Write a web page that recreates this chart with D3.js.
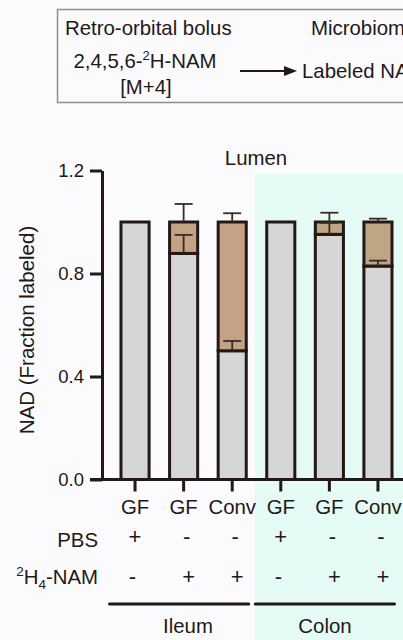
<!DOCTYPE html>
<html>
<head>
<meta charset="utf-8">
<script src="https://cdn.jsdelivr.net/npm/d3@7"></script>
<style>
  html, body { margin: 0; padding: 0; background: #fbfbfe; }
  svg { display: block; font-family: "Liberation Sans", Arial, sans-serif; }
  text { fill: #231815; }
</style>
</head>
<body>
<div class="chart"></div>
<script>
const groups = ['GF', 'GF', 'Conv', 'GF', 'GF', 'Conv'];
const pbs = ['+', '-', '-', '+', '-', '-'];
const nam = ['-', '+', '+', '-', '+', '+'];
const tissues = ['Ileum', 'Colon'];
const tissueOf = [0, 0, 0, 1, 1, 1];
const unlabeled = [1.0, 0.878, 0.50, 1.0, 0.952, 0.829];
const labeled = [0, 0.122, 0.50, 0, 0.048, 0.171];
const unlabeledErr = [0, 0.072, 0.038, 0, 0.045, 0.021];
const totalErr = [0, 0.07, 0.034, 0, 0.036, 0.013];
const yTicks = [0, 0.4, 0.8, 1.2];

const w = 403;
const h = 640;
const ink = '#231815';
const fs = 20.4;

const svg = d3.select('.chart')
  .append('svg')
  .attr('width', w)
  .attr('height', h);

// top scheme box
const box = svg.append('g');
box.append('rect')
  .attr('x', 57.5).attr('y', 9.5)
  .attr('width', 420).attr('height', 93)
  .attr('fill', 'none')
  .attr('stroke', '#8e8e8e')
  .attr('stroke-width', 1.5);
box.append('text').attr('x', 65).attr('y', 35)
  .attr('font-size', fs).text('Retro-orbital bolus');
box.append('text').attr('x', 311).attr('y', 35)
  .attr('font-size', fs).text('Microbiome');
const nm = box.append('text').attr('x', 145).attr('y', 68)
  .attr('font-size', fs).attr('text-anchor', 'middle');
nm.append('tspan').text('2,4,5,6-');
nm.append('tspan').attr('font-size', 13).attr('dy', -8).text('2');
nm.append('tspan').attr('dy', 8).text('H-NAM');
box.append('text').attr('x', 146).attr('y', 94)
  .attr('font-size', fs).attr('text-anchor', 'middle').text('[M+4]');
box.append('line')
  .attr('x1', 240).attr('x2', 287).attr('y1', 71).attr('y2', 71)
  .attr('stroke', ink).attr('stroke-width', 2.2);
box.append('path')
  .attr('d', 'M284,66 L297,71 L284,76 Z')
  .attr('fill', ink);
box.append('text').attr('x', 302).attr('y', 78)
  .attr('font-size', fs).text('Labeled NAD');

// scales
const x = d3.scaleBand()
  .domain(d3.range(groups.length))
  .range([102, 411])
  .padding(0.36);
const y = d3.scaleLinear()
  .domain([0, 1.2])
  .range([479.5, 170.5]);

// colon background
svg.append('rect')
  .attr('x', 255).attr('y', 174)
  .attr('width', w - 255).attr('height', h - 174)
  .attr('fill', '#e5fbf5');

svg.append('text')
  .attr('x', 256).attr('y', 165)
  .attr('text-anchor', 'middle')
  .attr('font-size', fs)
  .text('Lumen');

// bars
const sw = 3;
const bars = svg.append('g');
const bw = x.bandwidth() - sw;
groups.forEach((g, i) => {
  const bx = x(i) + sw / 2;
  bars.append('rect')
    .attr('x', bx).attr('width', bw)
    .attr('y', y(unlabeled[i])).attr('height', y(0) - y(unlabeled[i]))
    .attr('fill', '#d6d6d6')
    .attr('stroke', ink).attr('stroke-width', sw);
  if (labeled[i] > 0) {
    const top = unlabeled[i] + labeled[i];
    bars.append('rect')
      .attr('x', bx).attr('width', bw)
      .attr('y', y(top)).attr('height', y(unlabeled[i]) - y(top))
      .attr('fill', tissueOf[i] ? '#bea685' : '#c4a285')
      .attr('stroke', ink).attr('stroke-width', sw);
  }
});

// error bars (upper only)
const cx = (i) => x(i) + x.bandwidth() / 2;
const errs = [];
groups.forEach((g, i) => {
  if (unlabeledErr[i] > 0) errs.push({ i, v: unlabeled[i], e: unlabeledErr[i] });
  if (totalErr[i] > 0) errs.push({ i, v: unlabeled[i] + labeled[i], e: totalErr[i] });
});
const eb = svg.append('g')
  .attr('stroke', '#3a2a24')
  .attr('stroke-width', 1.8);
errs.forEach((d) => {
  eb.append('line')
    .attr('x1', cx(d.i)).attr('x2', cx(d.i))
    .attr('y1', y(d.v)).attr('y2', y(d.v + d.e));
  eb.append('line')
    .attr('x1', cx(d.i) - 9).attr('x2', cx(d.i) + 9)
    .attr('y1', y(d.v + d.e)).attr('y2', y(d.v + d.e));
});

// axes
const yAxis = svg.append('g')
  .attr('transform', `translate(${x.range()[0]}, 0)`)
  .call(d3.axisLeft(y)
    .tickValues(yTicks)
    .tickFormat(d3.format('.1f'))
    .tickSize(12)
    .tickSizeOuter(0)
    .tickPadding(6));
yAxis.select('.domain').attr('stroke', ink).attr('stroke-width', 3);
yAxis.selectAll('.tick line').attr('stroke', ink).attr('stroke-width', 3);
yAxis.selectAll('.tick text')
  .attr('font-size', 18.5)
  .attr('font-family', '"Liberation Sans", Arial, sans-serif')
  .attr('fill', ink);

const xAxis = svg.append('g')
  .attr('transform', `translate(0, ${y(0)})`)
  .call(d3.axisBottom(x)
    .tickFormat((i) => groups[i])
    .tickSize(12)
    .tickSizeOuter(0)
    .tickPadding(8));
xAxis.select('.domain').remove();
xAxis.selectAll('.tick line').attr('stroke', ink).attr('stroke-width', 3);
xAxis.selectAll('.tick text')
  .attr('font-size', fs)
  .attr('font-family', '"Liberation Sans", Arial, sans-serif')
  .attr('fill', ink);
svg.append('line')
  .attr('x1', 90).attr('x2', w + 10)
  .attr('y1', y(0)).attr('y2', y(0))
  .attr('stroke', ink).attr('stroke-width', 3);

// treatment rows
svg.append('text').attr('x', 98).attr('y', 547)
  .attr('text-anchor', 'end').attr('font-size', fs).text('PBS');
const nl = svg.append('text').attr('x', 98).attr('y', 584)
  .attr('text-anchor', 'end').attr('font-size', fs);
nl.append('tspan').attr('font-size', 13.5).attr('dy', -8).text('2');
nl.append('tspan').attr('dy', 8).text('H');
nl.append('tspan').attr('font-size', 13.5).attr('dy', 5).text('4');
nl.append('tspan').attr('dy', -5).text('-NAM');

svg.append('g').selectAll('text')
  .data(pbs)
  .join('text')
  .attr('x', (d, i) => cx(i) + (d === '+' ? 0 : 3))
  .attr('y', 544)
  .attr('text-anchor', 'middle')
  .attr('font-size', 22)
  .text((d) => d);
svg.append('g').selectAll('text')
  .data(nam)
  .join('text')
  .attr('x', (d, i) => cx(i) + (d === '+' ? 5 : -2.5))
  .attr('y', 584)
  .attr('text-anchor', 'middle')
  .attr('font-size', 22)
  .text((d) => d);

// tissue brackets
tissues.forEach((t, k) => {
  const idx = d3.range(groups.length).filter((i) => tissueOf[i] === k);
  const x1 = x(idx[0]) - 12;
  const x2 = x(idx[idx.length - 1]) + x.bandwidth() + 3;
  svg.append('line')
    .attr('x1', x1 + 2).attr('x2', x2 - 2)
    .attr('y1', 604).attr('y2', 604)
    .attr('stroke', ink).attr('stroke-width', 3)
    .attr('stroke-linecap', 'round');
  svg.append('text')
    .attr('x', k === 0 ? 188 : 325)
    .attr('y', 633)
    .attr('text-anchor', 'middle')
    .attr('font-size', fs)
    .text(t);
});

// y label
svg.append('text')
  .attr('transform', 'translate(34, 330) rotate(-90)')
  .attr('text-anchor', 'middle')
  .attr('font-size', 20.5)
  .text('NAD (Fraction labeled)');
</script>
</body>
</html>
